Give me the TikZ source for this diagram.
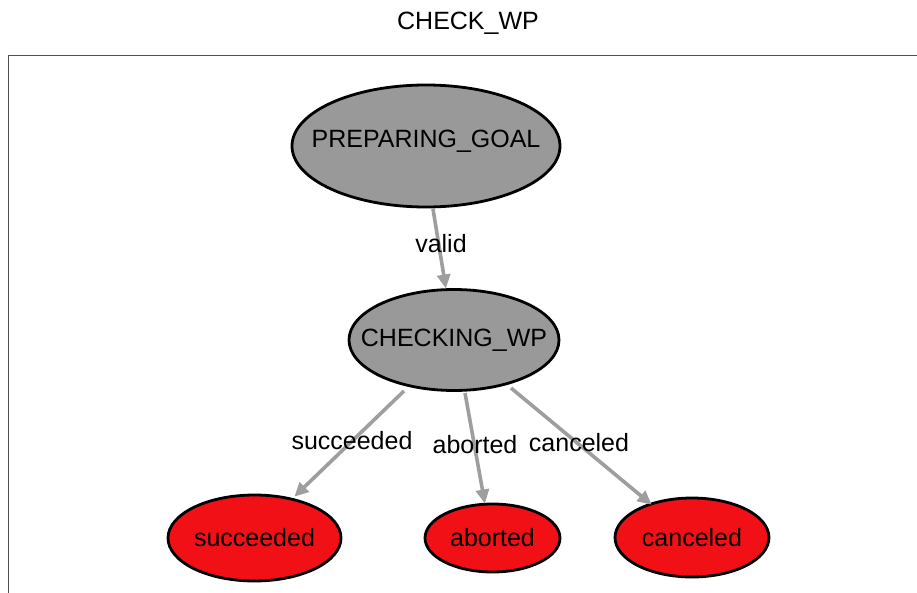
\documentclass[tikz,border=0pt]{standalone}
\usepackage{fontspec}
\setmainfont{Liberation Sans}
\usetikzlibrary{shapes.geometric,arrows.meta}
\definecolor{stategray}{RGB}{153,153,153}
\definecolor{finalred}{RGB}{240,16,22}
\definecolor{edgegray}{RGB}{158,158,158}
\definecolor{framegray}{RGB}{80,80,80}
\begin{document}
\begin{tikzpicture}[x=1pt,y=-1pt,
  lbl/.style={font=\fontsize{25}{29}\selectfont, inner sep=0pt},
  statenode/.style={ellipse, draw=black, line width=2.8pt, fill=stategray, inner sep=0pt},
  finalnode/.style={statenode, fill=finalred},
  trans/.style={draw=edgegray, line width=3.6pt,
    -{Triangle[length=14pt,width=13pt]}, shorten >=0.5pt}]
\useasboundingbox (0,0) rectangle (917,593);
% frame around the machine
\draw[framegray, line width=1.5pt] (8.5,593) -- (8.5,55.5) -- (917,55.5);
% title
\node[lbl] (title) at (468,23) {CHECK\_WP};
% states (text placed as a centred label so it does not grow the ellipse)
\node[statenode, minimum width=268pt, minimum height=122pt,
  label={[lbl,yshift=5pt]center:PREPARING\_GOAL}] (prep) at (426,146) {};
\node[statenode, minimum width=210pt, minimum height=101pt,
  label={[lbl]center:CHECKING\_WP}] (check) at (454,340) {};
\node[finalnode, minimum width=173pt, minimum height=86pt,
  label={[lbl]center:succeeded}] (succ) at (254.5,538) {};
\node[finalnode, minimum width=135pt, minimum height=68pt,
  label={[lbl]center:aborted}] (abort) at (492.5,538) {};
\node[finalnode, minimum width=154pt, minimum height=79pt,
  label={[lbl]center:canceled}] (cancel) at (692,537.5) {};
% transition end points on the ellipse rims
\coordinate (p1) at (433,209);
\coordinate (c0) at (446,289);
\coordinate (c1) at (404,391);
\coordinate (s0) at (294,497);
\coordinate (c2) at (465,393);
\coordinate (a0) at (485,504);
\coordinate (c3) at (511,388);
\coordinate (k0) at (652,505);
% transitions
\draw[trans] (p1) -- (c0);
\draw[trans] (c1) -- (s0);
\draw[trans] (c2) -- (a0);
\draw[trans] (c3) -- (k0);
% transition labels
\node[lbl] (lvalid) at (441,244) {valid};
\node[lbl] (lsucc) at (352,441) {succeeded};
\node[lbl] (labort) at (475,445) {aborted};
\node[lbl] (lcancel) at (579,443) {canceled};
\end{tikzpicture}
\end{document}
